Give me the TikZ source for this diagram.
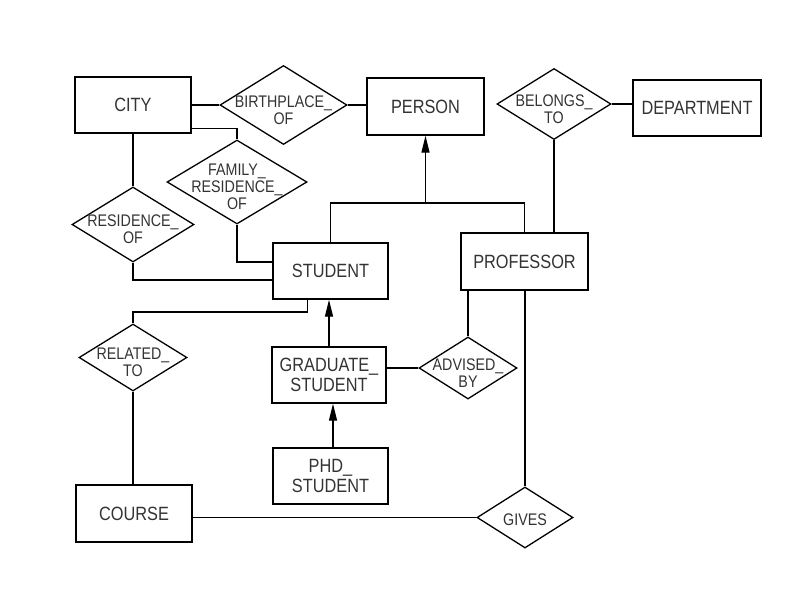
\documentclass[tikz,border=0pt]{standalone}
\usepackage{fontspec}
\setmainfont{Liberation Sans}
\newfontfamily\erfont{Liberation Sans}[FakeStretch=0.85]
\usetikzlibrary{shapes.geometric,arrows.meta}
\begin{document}
\begin{tikzpicture}[x=1pt,y=-1pt,
  ent/.style={draw, line width=1.3pt, rectangle, inner sep=0pt, text=black!80, font=\erfont\fontsize{19.2}{20}\selectfont, align=center},
  rel/.style={draw, line width=1.3pt, diamond, inner sep=0pt},
  rtext/.style={text=black!80, font=\erfont\fontsize{16.8}{17}\selectfont, align=center, inner sep=0pt, yshift=-5pt},
  conn/.style={line width=1.3pt},
  isa/.style={line width=1.3pt, -{Triangle[length=17pt,width=8pt]}}
]
\useasboundingbox (0,0) rectangle (800,600);
% entities
\node[ent, minimum width=116pt, minimum height=56pt] (city) at (133,105) {CITY};
\node[ent, minimum width=117pt, minimum height=57pt] (person) at (425.5,106.5) {PERSON};
\node[ent, minimum width=128pt, minimum height=56pt] (dept) at (697,108) {DEPARTMENT};
\node[ent, minimum width=115pt, minimum height=56pt] (student) at (330.5,271) {STUDENT};
\node[ent, minimum width=127pt, minimum height=57pt] (prof) at (524.5,261.5) {PROFESSOR};
\node[ent, minimum width=114pt, minimum height=56pt] (grad) at (329,375) {GRADUATE\_\\STUDENT};
\node[ent, minimum width=115pt, minimum height=56pt] (phd) at (330.5,476) {PHD\_\\STUDENT};
\node[ent, minimum width=116pt, minimum height=57pt] (course) at (134,513.5) {COURSE};
% relationships
\node[rel, minimum width=127pt, minimum height=79pt, label={[rtext]center:{BIRTHPLACE\_\\OF}}] (bp) at (283.5,105) {};
\node[rel, minimum width=114pt, minimum height=71pt, label={[rtext]center:{BELONGS\_\\TO}}] (bel) at (554,104) {};
\node[rel, minimum width=140pt, minimum height=84pt, label={[rtext]center:{FAMILY\_\\RESIDENCE\_\\OF}}] (fr) at (237,182) {};
\node[rel, minimum width=122pt, minimum height=75pt, label={[rtext]center:{RESIDENCE\_\\OF}}] (res) at (133,224.5) {};
\node[rel, minimum width=108pt, minimum height=67pt, label={[rtext]center:{RELATED\_\\TO}}] (relto) at (133,357.5) {};
\node[rel, minimum width=98pt, minimum height=62pt, label={[rtext]center:{ADVISED\_\\BY}}] (adv) at (468,368) {};
\node[rel, minimum width=96pt, minimum height=61pt, label={[rtext,yshift=3pt]center:{GIVES}}] (gives) at (525,517.5) {};
% junctions
\coordinate (isaj) at (425.5,203);
\coordinate (jr) at (133,312);
% connectors
\draw[conn] (city.east) -- (bp.west);
\draw[conn] (bp.east) -- (bp.east -| person.west);
\draw[conn] (bel.east) -- (bel.east -| dept.west);
\draw[conn] (bel.south) -- (bel.south |- prof.north);
\draw[conn] ([yshift=5pt]city.south east) -| (fr.north);
\draw[conn] (fr.south) |- ([yshift=9pt]student.west);
\draw[conn] (city.south) -- (res.north);
\draw[conn] (res.south) |- ([yshift=-9pt]student.west);
\draw[conn] (student.north) |- (isaj) -| (prof.north);
\draw[isa] (isaj) -- (person.south);
\draw[conn] ([xshift=-23pt]student.south) |- (jr) -- (relto.north);
\draw[conn] (relto.south) -- (relto.south |- course.north);
\draw[isa] (grad.north) -- (grad.north |- student.south);
\draw[isa] ([xshift=2.5pt]phd.north) -- ([xshift=2.5pt]phd.north |- grad.south);
\draw[conn] (adv.north) -- (adv.north |- prof.south);
\draw[conn] (adv.west) -- (adv.west -| grad.east);
\draw[conn] (gives.north) -- (gives.north |- prof.south);
\draw[conn] (gives.west) -- (gives.west -| course.east);
\end{tikzpicture}
\end{document}
